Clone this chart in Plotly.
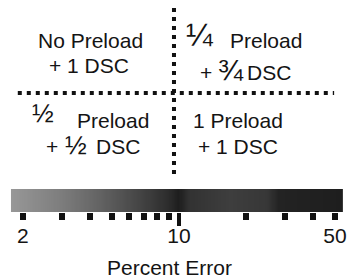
import numpy as np
import plotly.graph_objects as go

W, H = 349, 278
FONT = "Liberation Sans, Arial, Helvetica, sans-serif"
INK = "#141414"

# ---- data ----
tick_values = [2, 3, 4, 5, 6, 7, 8, 9, 20, 30, 40, 50]
tick_labels = ["2", "", "", "", "", "", "", "", "", "", "", "50"]
major_tick = [10]
major_label = ["10"]
axis_title = "Percent Error"
# gradient stops: (percent error, gray level)
gradient_pct = [1.77, 3.0, 4.4, 6.6, 9.0, 10.0, 11.1, 17.0, 25.0, 28.0, 54.3]
gradient_gray = [152, 125, 100, 70, 45, 30, 50, 62, 55, 35, 30]
quadrant_tl = ["No Preload", "+ 1 DSC"]
quadrant_tr = ["¼", "Preload", "+", "¾", "DSC"]
quadrant_bl = ["½", "Preload", "+", "½", "DSC"]
quadrant_br = ["1 Preload", "+ 1 DSC"]

lo, hi = np.log10(gradient_pct[0]), np.log10(gradient_pct[-1])
N = 300
edges = np.logspace(lo, hi, N + 1)
centers = np.log10(np.sqrt(edges[:-1] * edges[1:]))
cs = [[(np.log10(p) - lo) / (hi - lo), f"rgb({g},{g},{g})"] for p, g in zip(gradient_pct, gradient_gray)]
cs[0][0] = 0.0
cs[-1][0] = 1.0

fig = go.Figure()
fig.add_trace(go.Heatmap(
    x=edges, y=[0, 1], z=[centers.tolist()], colorscale=cs,
    zmin=lo, zmax=hi, showscale=False, hoverinfo="skip", xaxis="x", yaxis="y"))
fig.add_trace(go.Scatter(x=major_tick, y=[0.5], mode="markers", opacity=0,
                         xaxis="x3", yaxis="y", hoverinfo="skip", showlegend=False))

dom_x = [11 / W, 347 / W]
dom_y = [1 - 212 / H, 1 - 189 / H]

fig.update_layout(
    width=W, height=H, margin=dict(l=0, r=0, t=0, b=0),
    paper_bgcolor="white", plot_bgcolor="white", showlegend=False,
    xaxis=dict(type="log", range=[lo, hi], domain=dom_x, anchor="y",
               tickmode="array", tickvals=tick_values, ticktext=tick_labels,
               ticks="outside", ticklen=7, tickwidth=6, tickcolor="#111",
               showgrid=False, zeroline=False, showline=False,
               ticklabelstandoff=-2, ticklabeloverflow="allow",
               tickfont=dict(family=FONT, size=21, color=INK)),
    xaxis3=dict(type="log", range=[lo, hi], domain=dom_x, anchor="y", overlaying="x",
                tickmode="array", tickvals=major_tick, ticktext=major_label,
                ticks="outside", ticklen=13, tickwidth=4, tickcolor="#111",
                showgrid=False, zeroline=False, showline=False,
                ticklabelstandoff=-8, ticklabeloverflow="allow",
                tickfont=dict(family=FONT, size=21, color=INK)),
    yaxis=dict(domain=dom_y, range=[0, 1], visible=False, fixedrange=True),
)


def ann(text, x, y, size=21):
    return dict(text=text, x=x / W, y=1 - y / H, xref="paper", yref="paper",
                xanchor="left", yanchor="middle", showarrow=False,
                font=dict(family=FONT, size=size, color=INK))


anns = [
    ann(quadrant_tl[0], 36, 40), ann(quadrant_tl[1], 48, 65),
    ann(quadrant_tr[0], 186, 35, 32), ann(quadrant_tr[1], 231, 40),
    ann(quadrant_tr[2], 200, 73), ann(quadrant_tr[3], 218, 69, 30), ann(quadrant_tr[4], 248, 73),
    ann(quadrant_bl[0], 30, 113, 26), ann(quadrant_bl[1], 76, 120),
    ann(quadrant_bl[2], 45, 146), ann(quadrant_bl[3], 64, 145, 26), ann(quadrant_bl[4], 95, 146),
    ann(quadrant_br[0], 193, 121), ann(quadrant_br[1], 198, 146),
    dict(text=axis_title, x=171 / W, y=1 - 267 / H, xref="paper", yref="paper",
         xanchor="center", yanchor="middle", showarrow=False,
         font=dict(family=FONT, size=21, color=INK)),
]
fig.update_layout(annotations=anns)

dot = dict(color="#111", width=4, dash="4px,5px")
fig.add_shape(type="line", xref="paper", yref="paper",
              x0=18 / W, x1=338 / W, y0=1 - 93 / H, y1=1 - 93 / H, line=dot)
fig.add_shape(type="line", xref="paper", yref="paper",
              x0=176 / W, x1=176 / W, y0=1 - 8 / H, y1=1 - 178 / H, line=dot)

fig.write_html("out.html", config={"displayModeBar": False, "staticPlot": True},
               post_script="document.body.style.margin='0';document.body.style.overflow='hidden';")
